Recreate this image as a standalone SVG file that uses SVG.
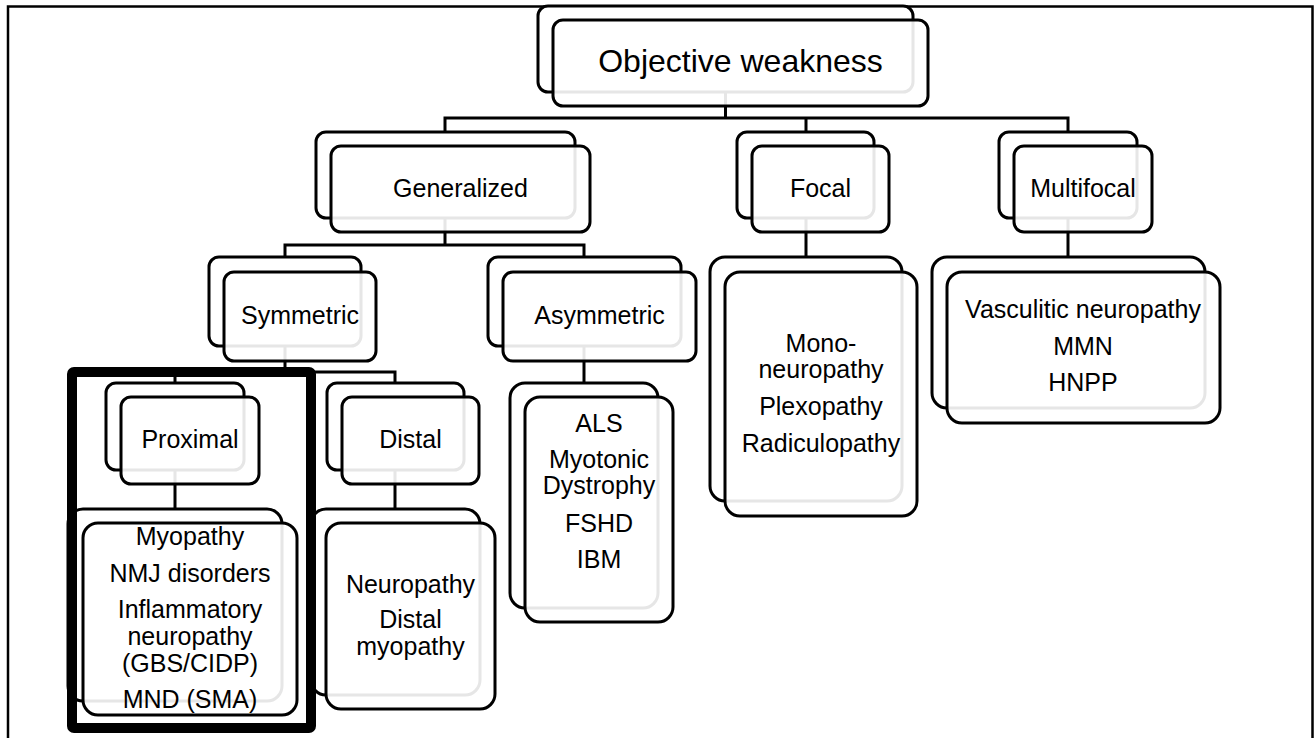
<svg xmlns="http://www.w3.org/2000/svg" width="1314" height="738" viewBox="0 0 1314 738">
<style>
.bk{fill:#fff;stroke:#000;stroke-width:3}
.fr{fill:#fff;fill-opacity:0.9;stroke:#000;stroke-width:3}
.t{font-family:"Liberation Sans",Arial,sans-serif;font-size:25px;fill:#000;text-anchor:middle}
.c{fill:none;stroke:#000;stroke-width:3}
</style>
<rect x="0" y="0" width="1314" height="738" fill="#fff"/>
<rect x="8" y="6.5" width="1304.5" height="780" fill="none" stroke="#000" stroke-width="2.5"/>
<g id="connectors">
<path class="c" d="M725.5,92V118M445,132V118H1068V132M806,118V132"/>
<path class="c" d="M445,218V245M285,257V245H584V257"/>
<path class="c" d="M285,346V372M175,383V372H395V383"/>
<path class="c" d="M175,470V509M395,470V509"/>
<path class="c" d="M584,346V383"/>
<path class="c" d="M806,218V257M1068,218V257"/>
</g>
<g id="n-objective">
<rect class="bk" x="538" y="6" width="375" height="86" rx="10"/>
<rect class="fr" x="553" y="20" width="375" height="86" rx="10"/>
<text class="t" x="740.5" y="72" style="font-size:32px">Objective weakness</text>
</g>
<g id="n-generalized">
<rect class="bk" x="316" y="132" width="259" height="86" rx="10"/>
<rect class="fr" x="331" y="146" width="259" height="86" rx="10"/>
<text class="t" x="460.5" y="197">Generalized</text>
</g>
<g id="n-focal">
<rect class="bk" x="737" y="132" width="137" height="86" rx="10"/>
<rect class="fr" x="752" y="146" width="137" height="86" rx="10"/>
<text class="t" x="820.5" y="197">Focal</text>
</g>
<g id="n-multifocal">
<rect class="bk" x="999" y="132" width="138" height="86" rx="10"/>
<rect class="fr" x="1014" y="146" width="138" height="86" rx="10"/>
<text class="t" x="1083" y="197">Multifocal</text>
</g>
<g id="n-symmetric">
<rect class="bk" x="209" y="257" width="152" height="89" rx="10"/>
<rect class="fr" x="224" y="272" width="152" height="89" rx="10"/>
<text class="t" x="300" y="324">Symmetric</text>
</g>
<g id="n-asymmetric">
<rect class="bk" x="488" y="257" width="193" height="89" rx="10"/>
<rect class="fr" x="503" y="272" width="193" height="89" rx="10"/>
<text class="t" x="599.5" y="324">Asymmetric</text>
</g>
<g id="n-proximal">
<rect class="bk" x="106" y="383" width="138" height="87" rx="10"/>
<rect class="fr" x="121" y="397" width="138" height="87" rx="10"/>
<text class="t" x="190" y="448">Proximal</text>
</g>
<g id="n-distal">
<rect class="bk" x="327" y="383" width="137" height="87" rx="10"/>
<rect class="fr" x="342" y="397" width="137" height="87" rx="10"/>
<text class="t" x="410.5" y="448">Distal</text>
</g>
<g id="n-proximal-list">
<rect class="bk" x="68" y="509" width="214" height="192" rx="15"/>
<rect class="fr" x="83" y="523" width="214" height="192" rx="15"/>
<text class="t" x="190" y="545">Myopathy</text>
<text class="t" x="190" y="582">NMJ disorders</text>
<text class="t" x="190" y="618">Inflammatory</text>
<text class="t" x="190" y="645">neuropathy</text>
<text class="t" x="190" y="672">(GBS/CIDP)</text>
<text class="t" x="190" y="708">MND (SMA)</text>
</g>
<g id="n-distal-list">
<rect class="bk" x="311" y="509" width="169" height="186" rx="15"/>
<rect class="fr" x="326" y="523" width="169" height="186" rx="15"/>
<text class="t" x="410.5" y="593">Neuropathy</text>
<text class="t" x="410.5" y="628">Distal</text>
<text class="t" x="410.5" y="655">myopathy</text>
</g>
<g id="n-asymmetric-list">
<rect class="bk" x="510" y="383" width="148" height="225" rx="15"/>
<rect class="fr" x="525" y="397" width="148" height="225" rx="15"/>
<text class="t" x="599" y="432">ALS</text>
<text class="t" x="599" y="468">Myotonic</text>
<text class="t" x="599" y="494">Dystrophy</text>
<text class="t" x="599" y="532">FSHD</text>
<text class="t" x="599" y="568">IBM</text>
</g>
<g id="n-focal-list">
<rect class="bk" x="710" y="257" width="192" height="244" rx="15"/>
<rect class="fr" x="725" y="272" width="192" height="244" rx="15"/>
<text class="t" x="821" y="352">Mono-</text>
<text class="t" x="821" y="378">neuropathy</text>
<text class="t" x="821" y="415">Plexopathy</text>
<text class="t" x="821" y="452">Radiculopathy</text>
</g>
<g id="n-multifocal-list">
<rect class="bk" x="932" y="257" width="273" height="151" rx="15"/>
<rect class="fr" x="947" y="272" width="273" height="151" rx="15"/>
<text class="t" x="1083" y="318">Vasculitic neuropathy</text>
<text class="t" x="1083" y="355">MMN</text>
<text class="t" x="1083" y="391">HNPP</text>
</g>
<rect id="highlight" x="72" y="372" width="239" height="356" fill="none" stroke="#000" stroke-width="10" rx="2"/>
</svg>
